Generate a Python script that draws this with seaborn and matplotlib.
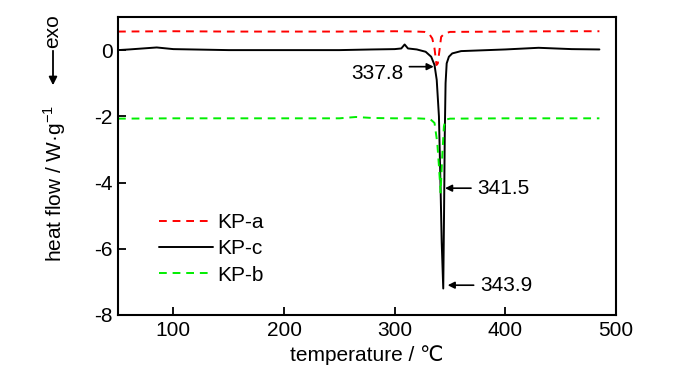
import numpy as np
import pandas as pd
import matplotlib
matplotlib.use("Agg")
import matplotlib.pyplot as plt
import seaborn as sns

# KP-a (red dashed)
temp_a = [50, 100, 150, 200, 250, 300, 320, 327, 331, 334, 336, 337.8, 339, 340.5, 342, 345, 350, 400, 450, 485]
flow_a = [0.56, 0.57, 0.56, 0.56, 0.56, 0.57, 0.56, 0.55, 0.50, 0.35, 0.05, -0.45, -0.40, 0.0, 0.40, 0.50, 0.55, 0.56, 0.57, 0.57]

# KP-c (black solid)
temp_c = [50, 60, 85, 100, 150, 200, 250, 280, 300, 306, 309, 312, 320, 328, 333, 336, 338, 340, 341.5, 342.5,
          343.9, 344.6, 345.3, 346, 347, 349, 352, 360, 400, 430, 460, 485]
flow_c = [0.0, 0.02, 0.08, 0.03, 0.0, 0.0, 0.0, 0.02, 0.03, 0.05, 0.17, 0.05, 0.02, -0.05, -0.2, -0.45, -0.9, -2.0, -4.2, -5.8,
          -7.2, -5.0, -2.5, -1.0, -0.4, -0.2, -0.1, -0.03, 0.02, 0.07, 0.03, 0.02]

# KP-b (green dashed)
temp_b = [50, 100, 150, 200, 250, 265, 280, 300, 320, 332, 336, 338.5, 340, 341.5, 343, 344.5, 346, 350, 400, 450, 485]
flow_b = [-2.07, -2.06, -2.06, -2.06, -2.06, -2.02, -2.05, -2.06, -2.06, -2.08, -2.2, -2.8, -3.5, -4.3, -3.2, -2.3, -2.1, -2.07, -2.06, -2.06, -2.06]

peak_labels = ["337.8", "341.5", "343.9"]
peak_x = [337.8, 341.5, 343.9]
peak_y = [-0.5, -4.17, -7.1]

df = pd.concat([
    pd.DataFrame({"temperature": temp_a, "flow": flow_a, "sample": "KP-a"}),
    pd.DataFrame({"temperature": temp_c, "flow": flow_c, "sample": "KP-c"}),
    pd.DataFrame({"temperature": temp_b, "flow": flow_b, "sample": "KP-b"}),
])

sns.set_style("ticks")
plt.rcParams["font.family"] = ["Liberation Sans", "DejaVu Sans"]
plt.rcParams["mathtext.fontset"] = "custom"
plt.rcParams["mathtext.rm"] = "Liberation Sans"
plt.rcParams["axes.unicode_minus"] = False
plt.rcParams["text.color"] = "black"
plt.rcParams["axes.labelcolor"] = "black"
plt.rcParams["xtick.color"] = "black"
plt.rcParams["ytick.color"] = "black"
plt.rcParams["axes.edgecolor"] = "black"

fs = 15

fig = plt.figure(figsize=(7, 3.74), dpi=100)
ax = fig.add_axes([118 / 700, 1 - 315 / 374, 498 / 700, 298 / 374])

palette = {"KP-a": "#ff0000", "KP-c": "#000000", "KP-b": "#00ee00"}
dashes = {"KP-a": (4, 3), "KP-c": "", "KP-b": (4, 3)}
sns.lineplot(data=df, x="temperature", y="flow", hue="sample", style="sample",
             palette=palette, dashes=dashes, sort=False, estimator=None,
             linewidth=1.4, ax=ax)

ax.set_xlim(50, 500)
ax.set_ylim(-8, 1)
ax.set_xticks([100, 200, 300, 400, 500])
ax.set_yticks([-8, -6, -4, -2, 0])
ax.tick_params(direction="in", length=6, width=1.3, labelsize=fs, top=False, right=False, pad=4)
for s in ax.spines.values():
    s.set_linewidth(1.5)
    s.set_visible(True)
    s.set_color("black")

ax.set_xlabel("temperature / \u2103", fontsize=fs, labelpad=4)
ax.set_ylabel("")
fig.text(55 / 700, 1 - 183 / 374, "heat flow / W\u00b7g$^{-1}$", rotation=90,
         ha="center", va="center", fontsize=fs)
fig.text(53 / 700, 1 - 31 / 374, "exo", rotation=90, ha="center", va="center", fontsize=fs)
ax.annotate("", xy=(53 / 700, 1 - 88 / 374), xytext=(53 / 700, 1 - 48 / 374),
            xycoords="figure fraction", textcoords="figure fraction",
            arrowprops=dict(arrowstyle="-|>", color="black", lw=1.3, mutation_scale=12))

# peak annotations
offsets = [(-27, "right"), (30, "left"), (30, "left")]
for lab, px, py, (dx, ha) in zip(peak_labels, peak_x, peak_y, offsets):
    if ha == "right":
        ax.annotate("", xy=(px, py), xytext=(px + dx, py),
                    arrowprops=dict(arrowstyle="-|>", color="black", lw=1.2, mutation_scale=10))
        ax.text(px + dx - 3, py - 0.2, lab, ha="right", va="center", fontsize=fs)
    else:
        ax.annotate("", xy=(px + 1.5, py), xytext=(px + dx, py),
                    arrowprops=dict(arrowstyle="-|>", color="black", lw=1.2, mutation_scale=10))
        ax.text(px + dx + 3, py, lab, ha="left", va="center", fontsize=fs)

handles, labels = ax.get_legend_handles_labels()
ax.legend(handles, labels, loc="upper left", bbox_to_anchor=(0.065, 0.37), frameon=False,
          fontsize=fs, handlelength=2.6, handletextpad=0.2, labelspacing=0.35, borderaxespad=0)

fig.savefig("out.png", dpi=100)
